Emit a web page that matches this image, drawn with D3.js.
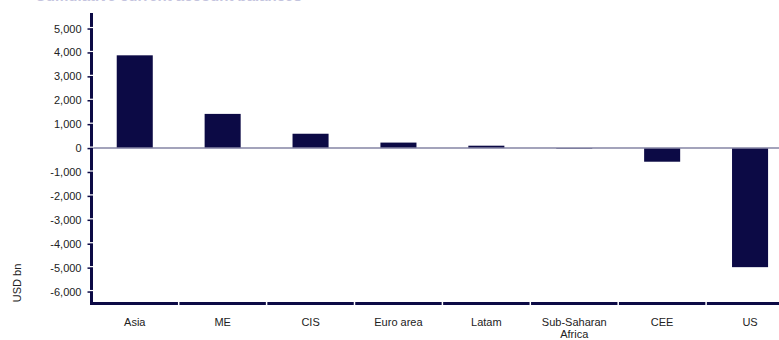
<!DOCTYPE html>
<html>
<head>
<meta charset="utf-8">
<script src="https://cdn.jsdelivr.net/npm/d3@7"></script>
<style>
html,body{margin:0;padding:0;background:#fff;overflow:hidden;}
svg{display:block;}
text{font-family:"Liberation Sans",Arial,sans-serif;}
</style>
</head>
<body>
<svg id="chart" width="779" height="340"></svg>
<script>
const categories = ["Asia","ME","CIS","Euro area","Latam","Sub-Saharan Africa","CEE","US"];
const values = [3880, 1430, 600, 230, 100, -25, -570, -4980];
const yTicks = [5000,4000,3000,2000,1000,0,-1000,-2000,-3000,-4000,-5000,-6000];
const yTitle = "USD bn";
const chartTitle = "Cumulative current account balances";

const svg = d3.select("#chart");
const navy = "#0c0a45";

const x = d3.scaleBand().domain(categories).range([90.8, 794]).padding(0);
const y = d3.scaleLinear().domain([-6500, 5650]).range([303.5, 13]);
const barW = x.bandwidth() * 0.41;

// faint title, mostly cut off at top (as in the reference)
svg.append("text").attr("x", 35).attr("y", 0.8)
  .attr("font-size", 15).attr("font-weight", "bold")
  .attr("fill", "#c4c4de").text(chartTitle);

// bars
svg.append("g").selectAll("rect").data(categories).join("rect")
  .attr("x", d => x(d) + (x.bandwidth() - barW) / 2)
  .attr("y", (d, i) => y(Math.max(0, values[i])))
  .attr("width", barW)
  .attr("height", (d, i) => Math.abs(y(values[i]) - y(0)))
  .attr("fill", navy);

// zero line
svg.append("line").attr("x1", 91).attr("x2", 779)
  .attr("y1", y(0)).attr("y2", y(0))
  .attr("stroke", "#8585a5").attr("stroke-width", 1.5);

// y axis
const yAxis = d3.axisLeft(y).tickValues(yTicks).tickSize(3)
  .tickFormat(d => d3.format(",")(d).replace("−", "-"));
const gy = svg.append("g").attr("transform", "translate(90.5,0)").call(yAxis);
gy.select(".domain").remove();
gy.selectAll(".tick line").attr("stroke", navy).attr("stroke-width", 1.5);
gy.selectAll(".tick text").attr("font-size", 11).attr("fill", "#222")
  .attr("x", -9).attr("font-family", "'Liberation Sans',Arial,sans-serif");
svg.append("line").attr("x1", 91.5).attr("x2", 91.5)
  .attr("y1", y.range()[1]).attr("y2", 305)
  .attr("stroke", navy).attr("stroke-width", 3);
// white tick gaps across the axis line
svg.append("g").selectAll("line").data(yTicks).join("line")
  .attr("x1", 90).attr("x2", 93.5)
  .attr("y1", d => y(d) - 1).attr("y2", d => y(d) - 1)
  .attr("stroke", "#fff").attr("stroke-width", 1.2);

// x axis
svg.append("line").attr("x1", 90).attr("x2", 779)
  .attr("y1", 303.5).attr("y2", 303.5)
  .attr("stroke", navy).attr("stroke-width", 3);
const bounds = categories.slice(1).map(c => x(c));
svg.append("g").selectAll("line").data(bounds).join("line")
  .attr("x1", d => d).attr("x2", d => d)
  .attr("y1", 301.5).attr("y2", 305.5)
  .attr("stroke", "#fff").attr("stroke-width", 1.5);

const xl = svg.append("g").selectAll("text").data(categories).join("text")
  .attr("x", d => x(d) + x.bandwidth() / 2)
  .attr("y", 326)
  .attr("text-anchor", "middle").attr("font-size", 11).attr("fill", "#222");
xl.each(function(d) {
  const t = d3.select(this);
  if (d === "Sub-Saharan Africa") {
    t.append("tspan").attr("x", x(d) + x.bandwidth() / 2).text("Sub-Saharan");
    t.append("tspan").attr("x", x(d) + x.bandwidth() / 2).attr("dy", 12).text("Africa");
  } else t.text(d);
});

// y title
svg.append("text").attr("transform", "translate(21,283) rotate(-90)")
  .attr("text-anchor", "middle").attr("font-size", 11).attr("fill", "#222")
  .text(yTitle);
</script>
</body>
</html>
